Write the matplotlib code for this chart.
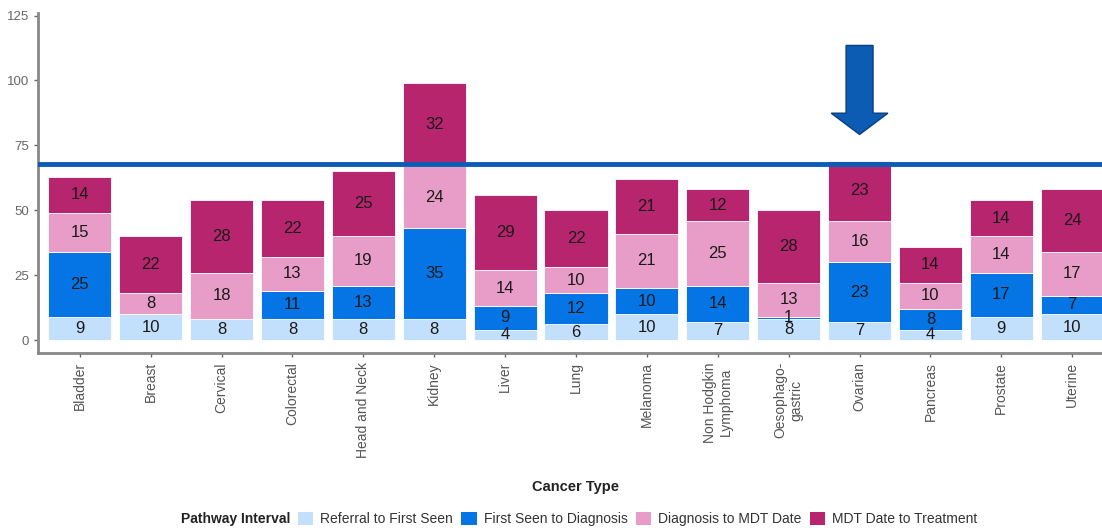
import matplotlib
matplotlib.use("Agg")
import matplotlib.pyplot as plt
from matplotlib.patches import Patch, FancyArrow
import numpy as np

plt.rcParams['font.family'] = ['Liberation Sans', 'DejaVu Sans']

cancers = ["Bladder", "Breast", "Cervical", "Colorectal", "Head and Neck", "Kidney",
           "Liver", "Lung", "Melanoma", "Non Hodgkin\nLymphoma", "Oesophago-\ngastric",
           "Ovarian", "Pancreas", "Prostate", "Uterine"]
referral = [9, 10, 8, 8, 8, 8, 4, 6, 10, 7, 8, 7, 4, 9, 10]
first_seen = [25, 0, 0, 11, 13, 35, 9, 12, 10, 14, 1, 23, 8, 17, 7]
diag_mdt = [15, 8, 18, 13, 19, 24, 14, 10, 21, 25, 13, 16, 10, 14, 17]
mdt_treat = [14, 22, 28, 22, 25, 32, 29, 22, 21, 12, 28, 23, 14, 14, 24]

series_names = ["Referral to First Seen", "First Seen to Diagnosis",
                "Diagnosis to MDT Date", "MDT Date to Treatment"]
colors = ["#c2e0fb", "#0575e6", "#e89dc8", "#b7256f"]
target = 68

fig = plt.figure(figsize=(11.02, 5.28), dpi=100)
ax = fig.add_axes([38 / 1102, 175 / 528, 1 - 38 / 1102, 340 / 528])

x = np.arange(len(cancers))
bottom = np.zeros(len(cancers))
for vals, c in zip([referral, first_seen, diag_mdt, mdt_treat], colors):
    vals = np.array(vals)
    ax.bar(x, vals, 0.89, bottom=bottom, color=c, edgecolor="white", linewidth=0.6)
    for xi, b, v in zip(x, bottom, vals):
        if v > 0:
            ax.text(xi, b + v / 2, str(v), ha="center", va="center", fontsize=12, color="#1a1a1a")
    bottom += vals

ax.axhline(target, color="#0a5cb5", linewidth=3.5, zorder=5)

# arrow pointing at Ovarian
ax.add_patch(FancyArrow(11, 113.5, 0, -34.3, width=0.38, head_width=0.8, head_length=8.2,
                        length_includes_head=True, facecolor="#0c5cb3", edgecolor="#0a3f80",
                        linewidth=1, zorder=6))

ax.set_xlim(-0.59, 14.42)
ax.set_ylim(-5, 126)
ax.set_yticks([0, 25, 50, 75, 100, 125])
ax.set_xticks(x)
ax.set_xticklabels(cancers, rotation=90, fontsize=10, color="#555555", va="top", ha="center")
ax.tick_params(axis="y", labelsize=9.5, colors="#666666", length=3, width=1)
ax.tick_params(axis="x", colors="#666666", length=3, width=1)
for lbl in ax.get_xticklabels():
    lbl.set_color("#555555")
for s in ["top", "right"]:
    ax.spines[s].set_visible(False)
for s in ["left", "bottom"]:
    ax.spines[s].set_color("#888888")
    ax.spines[s].set_linewidth(2)
ax.set_xlabel("Cancer Type", fontsize=10.5, fontweight="bold", color="#222222")
ax.xaxis.set_label_coords((575 - 38) / (1102 - 38), -(480 - 353) / 340)

handles = [Patch(facecolor=c, edgecolor="none") for c in colors]
fig.text(181 / 1102, 1 - 519 / 528, "Pathway Interval", fontsize=10, fontweight="bold",
         ha="left", va="center", color="#222222")
fig.legend(handles, series_names, ncol=4, loc="center left", bbox_to_anchor=(298 / 1102, 1 - 519 / 528),
           frameon=False, fontsize=10, handlelength=1.1, handleheight=1.1, handletextpad=0.5,
           columnspacing=0.6, labelcolor="#333333", borderaxespad=0, borderpad=0)

fig.savefig("out.png", dpi=100)
